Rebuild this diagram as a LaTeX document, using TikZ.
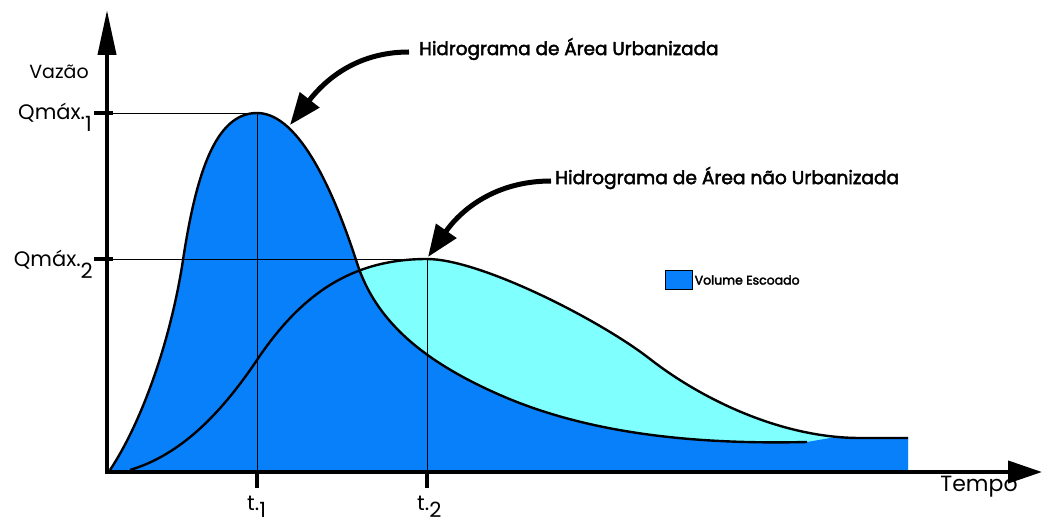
\documentclass[tikz,border=0pt]{standalone}
\usepackage{fontspec}
\setmainfont{Poppins}
\newfontfamily\titlefont[FakeBold=2.5]{Poppins}
\usetikzlibrary{arrows.meta}
\definecolor{urbblue}{RGB}{8,128,250}
\definecolor{natcyan}{RGB}{128,255,255}
\tikzset{>={Triangle[length=32pt,width=24pt]},
  axis/.style={line width=4pt},
  guide/.style={line width=0.8pt},
  curve/.style={line width=2.4pt, line join=round},
  callout/.style={line width=5pt, ->},
  tick/.style={line width=4.5pt}}
% hidrograma de area urbanizada
\newcommand{\urbanpts}{(110,55) .. controls (140,100) and (170,180) .. (183,265)
  .. controls (196,350) and (215,412) .. (257,412)
  .. controls (300,412) and (335,330) .. (357,262)
  .. controls (375,206) and (420,165) .. (500,130)
  .. controls (580,95) and (680,80) .. (807,83)}
% hidrograma de area nao urbanizada
\newcommand{\ruralpts}{(130,55) .. controls (180,70) and (220,110) .. (257,165)
  .. controls (300,229) and (350,266) .. (427,266)
  .. controls (480,266) and (600,205) .. (650,166)
  .. controls (700,127) and (780,87) .. (860,87) -- (908,87)}

\begin{document}
\begin{tikzpicture}[x=1pt, y=1pt]
    \useasboundingbox (0,0) rectangle (1043,525);

    \coordinate (O) at (107,53);
    \coordinate (ytop) at (107,515);
    \coordinate (xend) at (1042,53);
    \coordinate (pk1) at (257,412); % pico urbano
    \coordinate (pk2) at (427,266); % pico rural

    % areas
    \fill[natcyan] \ruralpts -- (908,53) -- (130,53) -- cycle;
    \fill[urbblue] \urbanpts -- (830,87) -- (908,87) -- (908,53) -- (110,53) -- cycle;

    % linhas de referencia
    \draw[guide] (O |- pk1) -- (pk1) -- (pk1 |- O);
    \draw[guide] (O |- pk2) -- (pk2) -- (pk2 |- O);

    % hidrogramas
    \draw[curve] \urbanpts;
    \draw[curve] \ruralpts;

    % eixos
    \draw[axis, -{Triangle[length=45pt,width=18pt]}] (O) -- (ytop);
    \draw[axis, -{Triangle[length=34pt,width=22pt]}] (105,53) -- (xend);
    \draw[tick] (94,412) -- (113,412);
    \draw[tick] (94,266) -- (113,266);
    \draw[tick] (257,55) -- (257,37);
    \draw[tick] (427,55) -- (427,37);

    \node[font=\fontsize{19}{19}\selectfont] (vazao) at (59,453) {Vazão};
    \node[font=\fontsize{21}{21}\selectfont, anchor=base east, inner sep=0pt] (qmax1) at (92,405)
        {Qmáx.\raisebox{-0.55em}{1}};
    \node[font=\fontsize{21}{21}\selectfont, anchor=base east, inner sep=0pt] (qmax2) at (93,258)
        {Qmáx.\raisebox{-0.55em}{2}};
    \node[font=\fontsize{21}{21}\selectfont, anchor=base west, inner sep=0pt] (t1) at (247,15)
        {t.\raisebox{-0.35em}{1}};
    \node[font=\fontsize{21}{21}\selectfont, anchor=base west, inner sep=0pt] (t2) at (417,15)
        {t.\raisebox{-0.35em}{2}};
    \node[font=\fontsize{22}{22}\selectfont] (tempo) at (979,38) {Tempo};

    % legenda
    \node[draw, line width=1pt, fill=urbblue, minimum width=27pt, minimum height=19pt,
        inner sep=0pt] (legbox) at (678.5,245) {};
    \node[font=\titlefont\fontsize{12.5}{12.5}\selectfont, anchor=west, inner sep=2pt] (leg)
        at (legbox.east) {Volume Escoado};

    % chamadas
    \node[font=\titlefont\fontsize{18.4}{18.4}\selectfont, anchor=west, inner sep=0pt] (hurb)
        at (419,476) {Hidrograma de Área Urbanizada};
    \node[font=\titlefont\fontsize{18.6}{18.6}\selectfont, anchor=west, inner sep=0pt] (hnat)
        at (555,347) {Hidrograma de Área não Urbanizada};
    \coordinate (aurb) at (290,400);
    \coordinate (anat) at (428,268);
    \draw[callout] (409,473) coordinate (hurbtail) to[out=180, in=52] (aurb);
    \draw[callout] (551,344) coordinate (hnattail) to[out=180, in=55] (anat);
\end{tikzpicture}
\end{document}
